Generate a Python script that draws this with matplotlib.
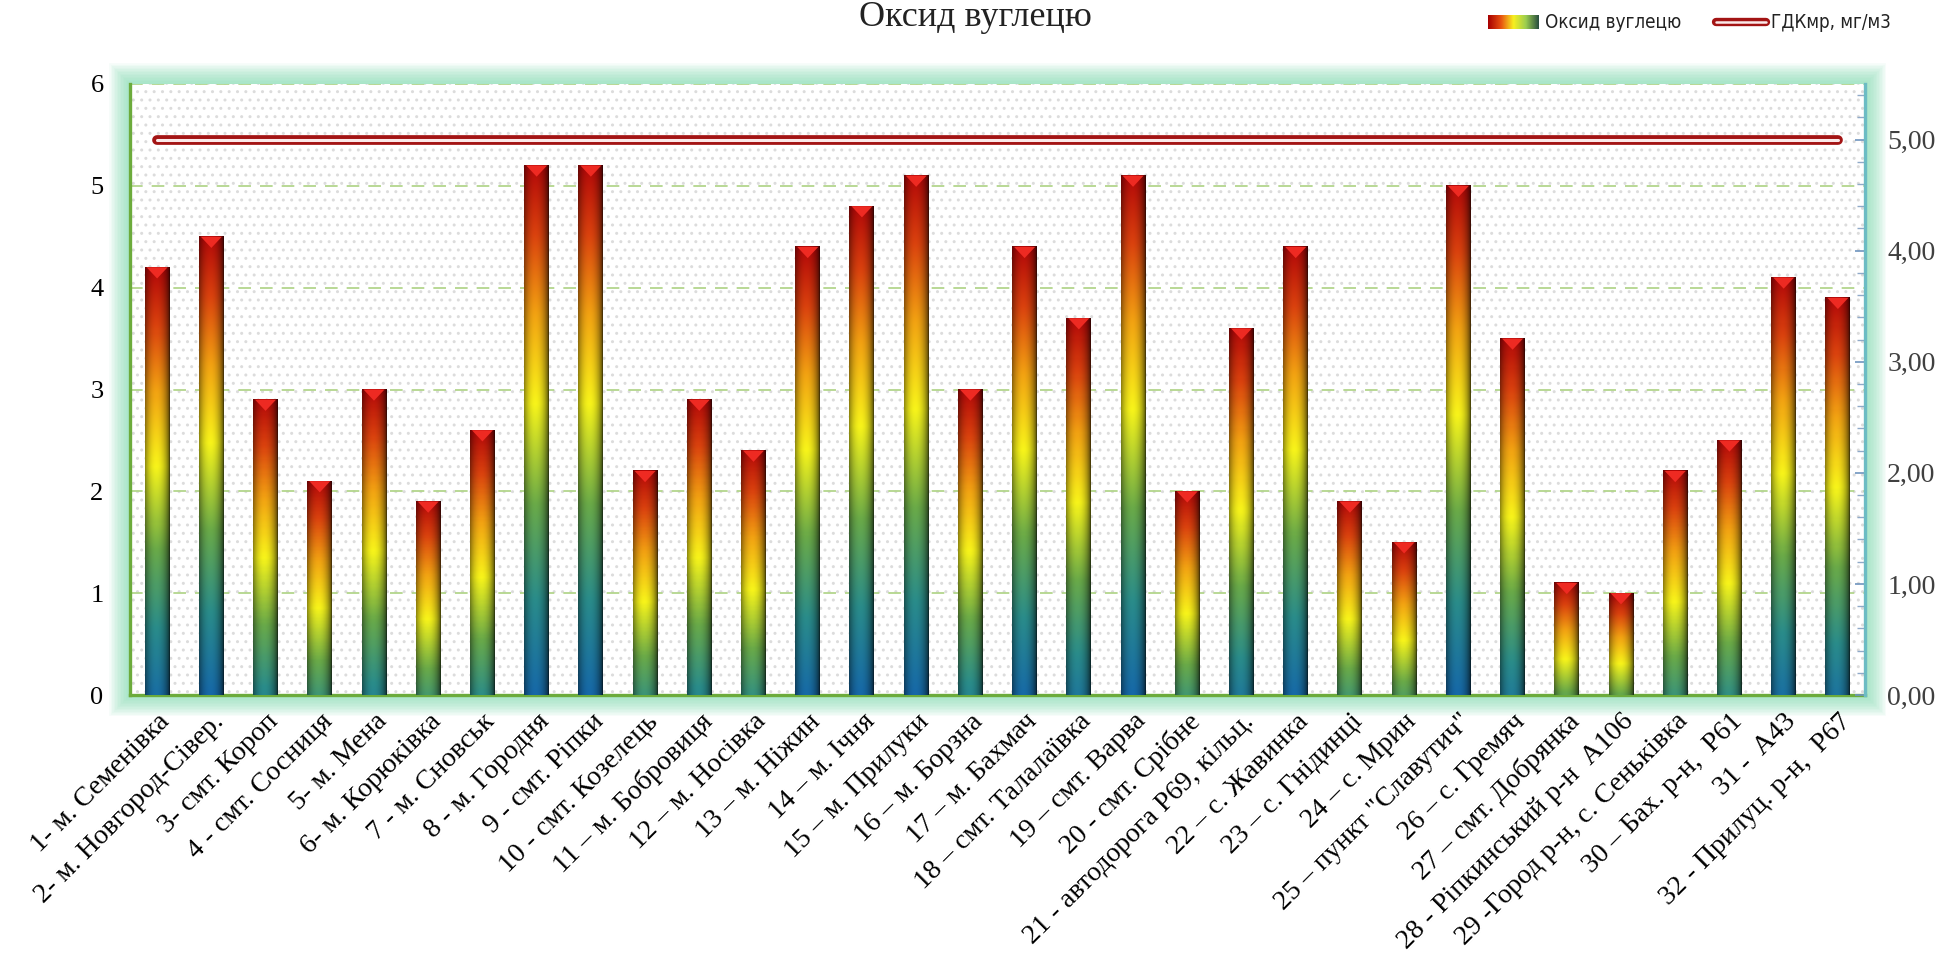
import numpy as np
import matplotlib.pyplot as plt
from matplotlib.colors import LinearSegmentedColormap
from matplotlib.patches import Rectangle, Polygon
from matplotlib.lines import Line2D
import matplotlib.ticker as mticker

stations = [
    '1- м. Семенівка', '2- м. Новгород-Сівер.', '3- смт. Короп', '4 - смт. Сосниця',
    '5- м. Мена', '6- м. Корюківка', '7 - м. Сновськ', '8 - м. Городня',
    '9 - смт. Ріпки', '10 - смт. Козелець', '11 – м. Бобровиця', '12 – м. Носівка',
    '13 – м. Ніжин', '14 – м. Ічня', '15 – м. Прилуки', '16 – м. Борзна',
    '17 – м. Бахмач', '18 – смт. Талалаївка', '19 – смт. Варва', '20 - смт. Срібне',
    '21 - автодорога P69, кільц.', '22 – с. Жавинка', '23 – с. Гнідинці', '24 – с. Мрин',
    '25 – пункт "Славутич"', '26 – с. Гремяч', '27 – смт. Добрянка', '28 - Ріпкинський р-н  А106',
    '29 -Город р-н, с. Сеньківка', '30 – Бах. р-н,  P61', '31 -  A43', '32 - Прилуц. р-н,  P67',
]
co_values = [4.2, 4.5, 2.9, 2.1, 3.0, 1.9, 2.6, 5.2, 5.2, 2.2, 2.9, 2.4, 4.4, 4.8, 5.1, 3.0,
             4.4, 3.7, 5.1, 2.0, 3.6, 4.4, 1.9, 1.5, 5.0, 3.5, 1.1, 1.0, 2.2, 2.5, 4.1, 3.9]
gdk_values = [5.0] * len(stations)   # ГДКмр, мг/м3 (secondary axis)

serif = 'Liberation Serif'

W, H = 1957, 976
L, R, T, B = 130, 1865, 84, 695   # plot area in pixels
fig = plt.figure(figsize=(W / 100, H / 100), dpi=100)
fig.patch.set_facecolor('white')
ax = fig.add_axes([L / W, 1 - B / H, (R - L) / W, (B - T) / H])

# soft green glow around the plot area
for lw in np.linspace(30, 2, 14):
    fig.patches.append(Rectangle((L / W, 1 - B / H), (R - L) / W, (B - T) / H,
                                 transform=fig.transFigure, fill=False, lw=lw,
                                 edgecolor='#7edcb0', alpha=0.07, zorder=-5))

ax.set_facecolor('white')
ax.add_patch(Rectangle((0, 0), 1, 1, transform=ax.transAxes, hatch='..', facecolor='none',
                       edgecolor='#dcdcdc', lw=0, zorder=0))

x = np.arange(len(stations))
bw = 0.46
bars = ax.bar(x, co_values, bw, color='none', edgecolor='none', zorder=3)

cmap = LinearSegmentedColormap.from_list('co', [
    (0.00, '#1668a8'), (0.18, '#2a8c8a'), (0.36, '#6aaa48'), (0.55, '#f8f41a'),
    (0.72, '#f2a212'), (0.87, '#da420e'), (1.00, '#b20808')])
u = np.linspace(0, 1, 40)
shade = 0.25 + 0.75 * np.sin(np.pi * (0.08 + 0.92 * u)) ** 0.6
for b in bars:
    x0, w, h = b.get_x(), b.get_width(), b.get_height()
    f = min(1.0, 0.55 + 0.1 * h)
    t = 1 - (1 - np.linspace(0, 1, 256)) * f
    rgb = cmap(t)[:, None, :3] * shade[None, :, None]
    ax.imshow(rgb, extent=[x0, x0 + w, 0, h], origin='lower', aspect='auto',
              interpolation='bilinear', zorder=3)
    ax.add_patch(Polygon([(x0 + 0.08 * w, h), (x0 + 0.92 * w, h), (x0 + w / 2, h - 0.11)],
                         closed=True, facecolor='#ee2a22', edgecolor='none', zorder=4))

ax.set_xlim(-0.5, len(stations) - 0.5)
ax.set_ylim(0, 6)
ax.set_yticks(range(0, 7))
ax.yaxis.grid(True, ls=(0, (7, 5)), color='#b3d68c', lw=1.3, zorder=1)
ax.set_axisbelow(True)
ax.set_xticks(x)
ax.set_xticklabels(stations, rotation=45, ha='right', rotation_mode='anchor',
                   fontsize=20, family=serif)
ax.tick_params(axis='x', length=0, pad=10)
ax.tick_params(axis='y', length=0, pad=19, labelsize=19)
for lab in ax.get_yticklabels():
    lab.set_family(serif)
for s in ['left', 'bottom']:
    ax.spines[s].set_color('#6cab3c')
    ax.spines[s].set_linewidth(2.4)
ax.spines['top'].set_visible(False)
ax.spines['right'].set_visible(False)

ax2 = ax.twinx()
ax2.set_ylim(0, 5.5)
ax2.yaxis.set_major_locator(mticker.MultipleLocator(1))
ax2.yaxis.set_minor_locator(mticker.MultipleLocator(0.2))
ax2.yaxis.set_major_formatter(mticker.FuncFormatter(lambda v, p: f'{v:.2f}'.replace('.', ',')))
ax2.tick_params(axis='y', which='major', direction='in', length=7, width=1.2, color='#6f95bf',
                labelsize=20, labelcolor='#404040', pad=16)
ax2.tick_params(axis='y', which='minor', direction='in', length=6, width=1.0, color='#8fa9c8')
for lab in ax2.get_yticklabels():
    lab.set_family(serif)
for s in ['left', 'bottom', 'top']:
    ax2.spines[s].set_visible(False)
ax2.spines['right'].set_color('#6cbcc4')
ax2.spines['right'].set_linewidth(2.4)
ax2.plot(x, gdk_values, color='#a31414', lw=7, solid_capstyle='round', zorder=5)
ax2.plot(x, gdk_values, color='#fbe9e9', lw=2.2, solid_capstyle='round', zorder=6)

fig.text(975 / W, 1 - 17 / H, 'Оксид вуглецю', ha='center', va='center',
         fontsize=26, family=serif, color='#222222')

# legend
sw = fig.add_axes([1488 / W, 1 - 29 / H, 51 / W, 14 / H])
leg_cmap = LinearSegmentedColormap.from_list('leg', ['#a80000', '#e85010', '#f8f020', '#9acd50', '#2a5040'])
sw.imshow(np.linspace(0, 1, 64)[None, :], cmap=leg_cmap, aspect='auto')
sw.axis('off')
fig.text(1545 / W, 1 - 22 / H, 'Оксид вуглецю', ha='left', va='center', fontsize=13.5,
         family='DejaVu Sans', fontstretch='condensed', color='#222222')
fig.lines.append(Line2D([1716 / W, 1766 / W], [1 - 22 / H] * 2, transform=fig.transFigure,
                        color='#a31414', lw=6, solid_capstyle='round'))
fig.lines.append(Line2D([1716 / W, 1766 / W], [1 - 22 / H] * 2, transform=fig.transFigure,
                        color='#fbe9e9', lw=1.8, solid_capstyle='round'))
fig.text(1771 / W, 1 - 22 / H, 'ГДКмр, мг/м3', ha='left', va='center', fontsize=13.5,
         family='DejaVu Sans', fontstretch='condensed', color='#222222')

fig.savefig('out.png', dpi=100)
